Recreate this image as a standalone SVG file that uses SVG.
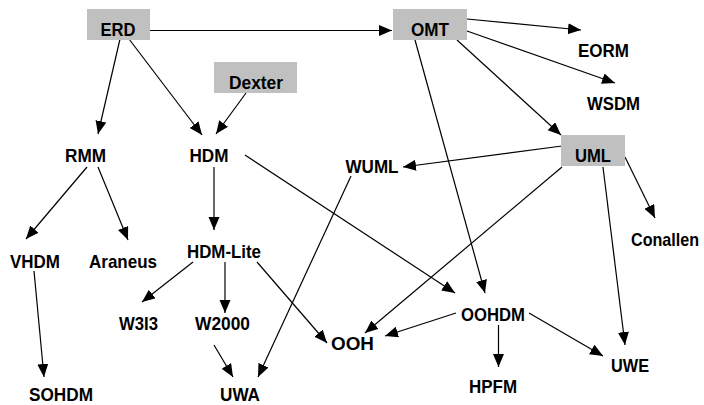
<svg xmlns="http://www.w3.org/2000/svg" width="704" height="405" viewBox="0 0 704 405">
<style>
.bg{fill:#ffffff}
.box{fill:#c0c0c0}
.t{font-family:"Liberation Sans",Arial,sans-serif;font-weight:bold;font-size:19px;fill:#000;text-anchor:middle}
.e{stroke:#000;stroke-width:1.2;fill:none;marker-end:url(#ah)}
</style>
<defs>
<marker id="ah" markerUnits="userSpaceOnUse" markerWidth="14" markerHeight="12" refX="13" refY="5.5" orient="auto" viewBox="0 0 14 12">
<path d="M0,0 L13,5.5 L0,11 z" fill="#000"/>
</marker>
</defs>
<rect class="bg" x="0" y="0" width="704" height="405"/>
<g id="connectors">
<line class="e" x1="150" y1="30.5" x2="392" y2="30.5"/>
<line class="e" x1="120" y1="39" x2="98" y2="134"/>
<line class="e" x1="129" y1="39" x2="202" y2="135"/>
<line class="e" x1="246" y1="93" x2="216" y2="134"/>
<line class="e" x1="87" y1="167" x2="26" y2="239"/>
<line class="e" x1="98" y1="167" x2="128" y2="240"/>
<line class="e" x1="214" y1="167" x2="214" y2="230"/>
<line class="e" x1="245" y1="155" x2="455" y2="293"/>
<line class="e" x1="193" y1="262" x2="142" y2="302"/>
<line class="e" x1="225" y1="262" x2="225" y2="313"/>
<line class="e" x1="257" y1="262" x2="327" y2="343"/>
<line class="e" x1="214" y1="345" x2="233" y2="377"/>
<line class="e" x1="351" y1="176" x2="258" y2="377"/>
<line class="e" x1="467" y1="19" x2="581" y2="30"/>
<line class="e" x1="467" y1="31" x2="615" y2="83"/>
<line class="e" x1="457" y1="40" x2="561" y2="135"/>
<line class="e" x1="415" y1="40" x2="485" y2="293"/>
<line class="e" x1="562" y1="146" x2="403" y2="167"/>
<line class="e" x1="562" y1="167" x2="365" y2="333"/>
<line class="e" x1="603" y1="167" x2="625" y2="345"/>
<line class="e" x1="625" y1="157" x2="655" y2="218"/>
<line class="e" x1="456" y1="313" x2="385" y2="336"/>
<line class="e" x1="498.5" y1="325" x2="498.5" y2="367"/>
<line class="e" x1="529" y1="313" x2="603" y2="356"/>
<line class="e" x1="34" y1="271" x2="44" y2="377"/>
</g>
<g id="ERD"><rect class="box" x="87" y="9" width="63" height="31"/><text class="t" x="118" y="36" textLength="35" lengthAdjust="spacingAndGlyphs">ERD</text></g>
<g id="Dexter"><rect class="box" x="214" y="62" width="83" height="31"/><text class="t" x="256" y="89" textLength="54" lengthAdjust="spacingAndGlyphs">Dexter</text></g>
<g id="OMT"><rect class="box" x="393" y="9" width="74" height="31"/><text class="t" x="430" y="36" textLength="38" lengthAdjust="spacingAndGlyphs">OMT</text></g>
<g id="UML"><rect class="box" x="561" y="135" width="64" height="31"/><text class="t" x="593" y="162" textLength="36" lengthAdjust="spacingAndGlyphs">UML</text></g>
<g id="EORM"><text class="t" x="603.5" y="57" textLength="51" lengthAdjust="spacingAndGlyphs">EORM</text></g>
<g id="WSDM"><text class="t" x="613.5" y="110" textLength="53" lengthAdjust="spacingAndGlyphs">WSDM</text></g>
<g id="RMM"><text class="t" x="85.5" y="162" textLength="41" lengthAdjust="spacingAndGlyphs">RMM</text></g>
<g id="HDM"><text class="t" x="209" y="162" textLength="39" lengthAdjust="spacingAndGlyphs">HDM</text></g>
<g id="WUML"><text class="t" x="372" y="173" textLength="53" lengthAdjust="spacingAndGlyphs">WUML</text></g>
<g id="Conallen"><text class="t" x="665" y="246" font-size="17" textLength="68" lengthAdjust="spacingAndGlyphs">Conallen</text></g>
<g id="VHDM"><text class="t" x="35" y="268" textLength="50" lengthAdjust="spacingAndGlyphs">VHDM</text></g>
<g id="Araneus"><text class="t" x="123" y="268" textLength="68" lengthAdjust="spacingAndGlyphs">Araneus</text></g>
<g id="HDM-Lite"><text class="t" x="224" y="258" textLength="74" lengthAdjust="spacingAndGlyphs">HDM-Lite</text></g>
<g id="W3I3"><text class="t" x="138.5" y="330" textLength="39" lengthAdjust="spacingAndGlyphs">W3I3</text></g>
<g id="W2000"><text class="t" x="222.5" y="330" textLength="55" lengthAdjust="spacingAndGlyphs">W2000</text></g>
<g id="OOH"><text class="t" x="352.5" y="350" textLength="43" lengthAdjust="spacingAndGlyphs">OOH</text></g>
<g id="OOHDM"><text class="t" x="493" y="321" textLength="64" lengthAdjust="spacingAndGlyphs">OOHDM</text></g>
<g id="HPFM"><text class="t" x="493" y="393" textLength="48" lengthAdjust="spacingAndGlyphs">HPFM</text></g>
<g id="UWE"><text class="t" x="630" y="372" textLength="38" lengthAdjust="spacingAndGlyphs">UWE</text></g>
<g id="SOHDM"><text class="t" x="61" y="401" textLength="64" lengthAdjust="spacingAndGlyphs">SOHDM</text></g>
<g id="UWA"><text class="t" x="240" y="401" textLength="40" lengthAdjust="spacingAndGlyphs">UWA</text></g>
</svg>
